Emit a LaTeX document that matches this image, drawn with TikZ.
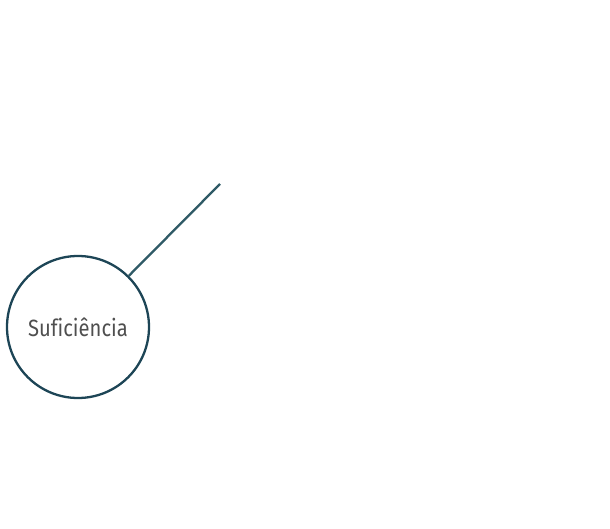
\documentclass[tikz,border=0pt]{standalone}
\usepackage{fontspec}
\setsansfont{Fira Sans}[FakeStretch=0.86, Ligatures=NoCommon]
\definecolor{ringblue}{HTML}{1D4556}
\definecolor{linkteal}{HTML}{2F5A66}
\definecolor{labelgray}{HTML}{4F4F4F}
\begin{document}
\begin{tikzpicture}[x=1pt, y=1pt]
        \useasboundingbox (0,0) rectangle (610,528);

        \node[draw=ringblue, circle, line width=2.3pt, minimum size=142pt, inner sep=0pt, text=labelgray, font=\sffamily\fontsize{23.5}{26}\selectfont] (suf) at (78,201) {Suficiência};
        \coordinate (tip) at (220,344);

        \draw [linkteal, line width=2.3pt] (suf) -- (tip);

    \end{tikzpicture}
\end{document}
